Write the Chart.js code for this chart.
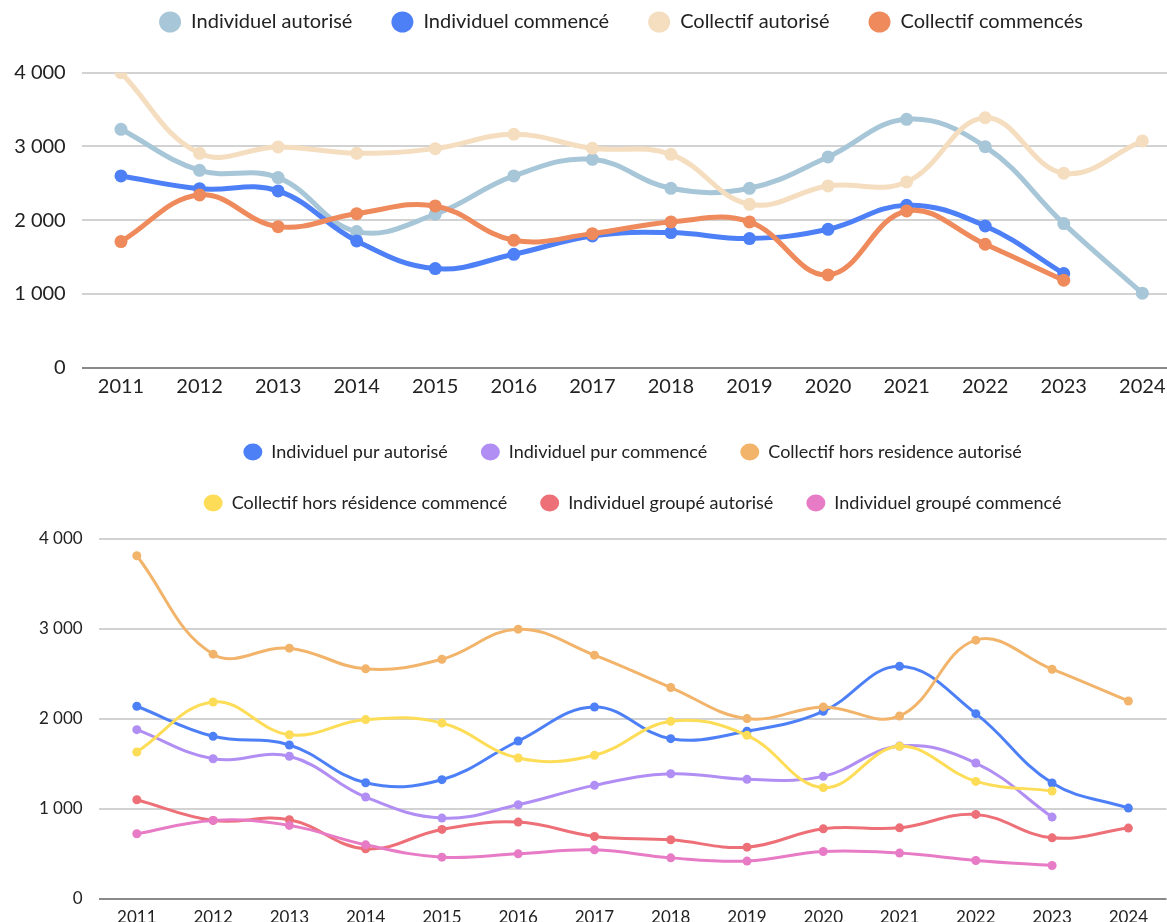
<!DOCTYPE html>
<html>
<head>
<meta charset="utf-8">
<script src="https://cdn.jsdelivr.net/npm/chart.js@4"></script>
<style>
  html, body { margin: 0; padding: 0; background: #fff; overflow: hidden; width: 1167px; height: 922px; }
  #top { position: absolute; left: 0; top: -27px; }
  #bottom { position: absolute; left: 0; top: 409.7px; }
</style>
</head>
<body>
<div id="top"><canvas id="c1" width="1242" height="439"></canvas></div>
<div id="bottom"><canvas id="c2" width="1171" height="529"></canvas></div>
<script>
// ---- data ----
const years = ['2011','2012','2013','2014','2015','2016','2017','2018','2019','2020','2021','2022','2023','2024'];
const yTicks = [0, 1000, 2000, 3000, 4000];

// chart 1
const indivAutorise = [3232, 2676, 2577, 1845, 2080, 2600, 2825, 2432, 2432, 2857, 3368, 2997, 1953, 1009];
const indivCommence = [2600, 2427, 2396, 1718, 1343, 1537, 1786, 1831, 1750, 1876, 2202, 1921, 1275, null];
const collAutorise  = [4000, 2907, 2993, 2907, 2970, 3165, 2975, 2893, 2215, 2464, 2518, 3390, 2636, 3074];
const collCommences = [1709, 2342, 1912, 2088, 2193, 1727, 1817, 1976, 1976, 1257, 2125, 1673, 1185, null];

// chart 2
const purAutorise      = [2141, 1807, 1711, 1291, 1325, 1755, 2133, 1781, 1863, 2085, 2586, 2059, 1288, 1009];
const purCommence      = [1881, 1558, 1585, 1132, 898, 1046, 1262, 1391, 1329, 1362, 1699, 1510, 909, null];
const horsResAutorise  = [3814, 2720, 2787, 2557, 2664, 2998, 2709, 2349, 2004, 2134, 2033, 2876, 2553, 2200];
const horsResCommence  = [1633, 2189, 1825, 1993, 1955, 1566, 1596, 1974, 1818, 1236, 1696, 1306, 1199, null];
const groupeAutorise   = [1102, 872, 880, 557, 772, 854, 694, 657, 575, 779, 790, 939, 679, 787];
const groupeCommence   = [724, 872, 817, 601, 464, 501, 545, 456, 420, 527, 509, 427, 371, null];

const FONT = 'Lato, "Noto Sans", sans-serif';
const TEXT = '#222222';
const fmt = v => String(v).replace(/\B(?=(\d{3})+(?!\d))/g, ' ');

function ds(label, data, color, i, lw, pr) {
  return {
    label, data,
    borderColor: color, backgroundColor: color,
    pointBackgroundColor: color, pointBorderColor: color,
    borderWidth: lw, pointRadius: pr, pointHoverRadius: pr, pointBorderWidth: 0,
    tension: 0.4, fill: false, order: -i
  };
}

function makeChart(id, datasets, cfg) {
  const scales = {
    x: {
      type: 'category', offset: true,
      grid: { display: false, drawTicks: false },
      border: { display: false },
      ticks: { color: TEXT, font: { family: FONT, size: cfg.tickFont, lineHeight: 1.2 }, padding: cfg.xPad, autoSkip: false, maxRotation: 0 }
    },
    y: {
      min: 0, max: 4000,
      afterBuildTicks: s => { s.ticks = yTicks.map(v => ({ value: v })); },
      afterFit: s => { s.width = cfg.yWidth; },
      grid: {
        drawTicks: false, lineWidth: 2,
        color: c => (c.tick && c.tick.value === 0) ? '#8a8a8a' : '#d2d2d2'
      },
      border: { display: false },
      ticks: { color: TEXT, font: { family: FONT, size: cfg.tickFont, lineHeight: 1.2 }, padding: 16, callback: v => fmt(v) }
    }
  };
  if (cfg.rightSpace) {
    scales.ySpace = {
      position: 'right', min: 0, max: 4000,
      grid: { display: false, drawTicks: false },
      border: { display: false },
      ticks: { display: false },
      afterFit: s => { s.width = cfg.rightSpace; }
    };
  }
  return new Chart(document.getElementById(id), {
    type: 'line',
    data: { labels: years, datasets },
    options: {
      responsive: false,
      animation: false,
      devicePixelRatio: 1,
      layout: { padding: cfg.layoutPadding },
      plugins: {
        tooltip: { enabled: false },
        legend: {
          position: 'top',
          fullSize: cfg.legendFull,
          labels: {
            usePointStyle: true, pointStyle: 'circle',
            pointStyleWidth: cfg.boxW, boxHeight: cfg.boxH,
            padding: cfg.legendPad, color: TEXT,
            font: { family: FONT, size: cfg.legendFont },
            sort: (a, b) => a.datasetIndex - b.datasetIndex
          }
        },
        title: {
          display: true, text: '', weight: 500,
          font: { size: 1, lineHeight: 1 },
          padding: { top: cfg.spacer / 2, bottom: cfg.spacer / 2 }
        }
      },
      scales
    }
  });
}

makeChart('c1', [
  ds('Individuel autorisé', indivAutorise, '#A7C6D7', 0, 5, 6.5),
  ds('Individuel commencé', indivCommence, '#4D80F6', 1, 5, 6.5),
  ds('Collectif autorisé', collAutorise, '#F5DDBF', 2, 5, 6.5),
  ds('Collectif commencés', collCommences, '#EE8A5B', 3, 5, 6.5)
], {
  layoutPadding: { top: 0, left: 0, right: 0, bottom: 6.2 },
  legendFull: true, rightSpace: 60.4,
  boxW: 22, boxH: 15, legendPad: 39, legendFont: 20,
  spacer: 29.7, tickFont: 20, xPad: 7.1, yWidth: 81.7
});

makeChart('c2', [
  ds('Individuel pur autorisé', purAutorise, '#4D80F6', 0, 3, 4.5),
  ds('Individuel pur commencé', purCommence, '#B18EF3', 1, 3, 4.5),
  ds('Collectif hors residence autorisé', horsResAutorise, '#F2B46B', 2, 3, 4.5),
  ds('Collectif hors résidence commencé', horsResCommence, '#FDDD57', 3, 3, 4.5),
  ds('Individuel groupé autorisé', groupeAutorise, '#ED6F77', 4, 3, 4.5),
  ds('Individuel groupé commencé', groupeCommence, '#E77BC5', 5, 3, 4.5)
], {
  layoutPadding: { top: 0, left: 0, right: 0, bottom: 3.5 },
  legendFull: false, rightSpace: 0,
  boxW: 19, boxH: 12, legendPad: 33, legendFont: 18,
  spacer: 16, tickFont: 17, xPad: 8.1, yWidth: 98.7
});
</script>
</body>
</html>
